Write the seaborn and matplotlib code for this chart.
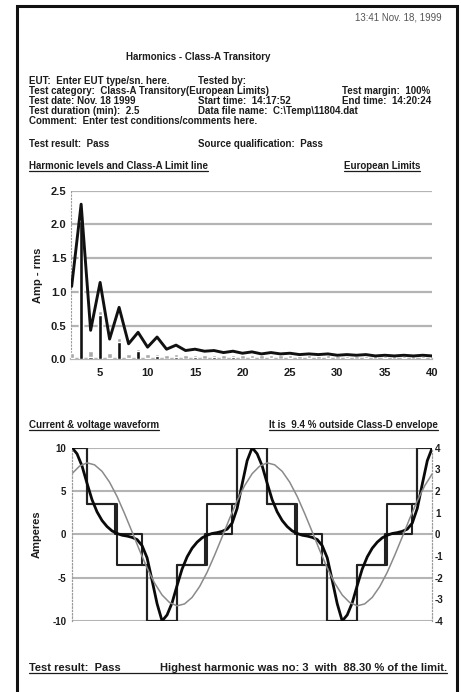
import matplotlib
matplotlib.use("Agg")
import matplotlib.pyplot as plt
import numpy as np
import seaborn as sns
from matplotlib.lines import Line2D
from matplotlib.patches import Rectangle

# harmonic table (Amp rms)
harmonics = list(range(2, 41))
limit_a = [1.08, 2.30, 0.43, 1.14, 0.30, 0.77, 0.23, 0.40, 0.18, 0.33,
           0.15, 0.21, 0.13, 0.15, 0.12, 0.13, 0.10, 0.12, 0.09, 0.11,
           0.08, 0.10, 0.08, 0.09, 0.07, 0.08, 0.07, 0.08, 0.06, 0.07,
           0.06, 0.07, 0.05, 0.06, 0.05, 0.06, 0.05, 0.06, 0.05]
level_max = [0.10, 2.12, 0.12, 0.72, 0.10, 0.31, 0.08, 0.16, 0.08, 0.08,
             0.07, 0.08, 0.07, 0.07, 0.06, 0.07, 0.06, 0.07, 0.06, 0.06,
             0.06, 0.06, 0.06, 0.06, 0.05, 0.06, 0.05, 0.06, 0.05, 0.05,
             0.05, 0.05, 0.05, 0.05, 0.05, 0.05, 0.05, 0.05, 0.05]
level_avg = [0.02, 2.05, 0.03, 0.65, 0.02, 0.26, 0.02, 0.13, 0.02, 0.05,
             0.01, 0.04, 0.01, 0.03, 0.01, 0.03, 0.01, 0.03, 0.01, 0.02,
             0.01, 0.02, 0.01, 0.02, 0.01, 0.02, 0.01, 0.02, 0.01, 0.02,
             0.01, 0.02, 0.01, 0.02, 0.01, 0.02, 0.01, 0.02, 0.01]

# waveform, x in degrees over two mains cycles
wave_deg = list(range(0, 721, 10))
current = [10.0, 9.3, 7.9, 5.9, 4.0, 2.6, 1.6, 0.9, 0.4, 0.1,
           -0.1, -0.2, -0.35, -0.6, -1.3, -2.7, -5.3, -8.0, -10.0, -9.3,
           -7.9, -5.9, -4.0, -2.6, -1.6, -0.9, -0.4, -0.1, 0.1, 0.2,
           0.35, 0.6, 1.3, 3.0, 5.8, 8.5,
           10.0, 9.3, 7.9, 5.9, 4.0, 2.6, 1.6, 0.9, 0.4, 0.1,
           -0.1, -0.2, -0.35, -0.6, -1.3, -2.7, -5.3, -8.0, -10.0, -9.3,
           -7.9, -5.9, -4.0, -2.6, -1.6, -0.9, -0.4, -0.1, 0.1, 0.2,
           0.35, 0.6, 1.3, 3.0, 5.8, 8.5, 10.0]
volt_deg = list(range(0, 721, 15))
voltage = [2.80, 3.15, 3.30, 3.21, 2.91, 2.41, 1.75, 0.96, 0.12, -0.74,
           -1.55, -2.25, -2.80, -3.15, -3.30, -3.21, -2.91, -2.41, -1.75, -0.96,
           -0.12, 0.74, 1.55, 2.25,
           2.80, 3.15, 3.30, 3.21, 2.91, 2.41, 1.75, 0.96, 0.12, -0.74,
           -1.55, -2.25, -2.80, -3.15, -3.30, -3.21, -2.91, -2.41, -1.75, -0.96,
           -0.12, 0.74, 1.55, 2.25, 2.80]
env_outer_deg = [0, 30, 90, 150, 210, 270, 330, 390, 450, 510, 570, 630, 690, 720]
env_outer = [10, 3.5, -3.5, -10, -3.5, 3.5, 10, 3.5, -3.5, -10, -3.5, 3.5, 10, 10]
env_inner_deg = [0, 30, 86, 139, 150, 210, 266, 319, 330, 390, 446, 499, 510,
                 570, 626, 679, 690, 720]
env_inner = [10, 3.5, 0, -3.5, -10, -3.5, 0, 3.5, 10, 3.5, 0, -3.5, -10,
             -3.5, 0, 3.5, 10, 10]

sns.set_style("white")
plt.rcParams["font.family"] = ["Liberation Sans", "DejaVu Sans"]
plt.rcParams["axes.unicode_minus"] = False

ink = "#1c1c1c"
gridc = "#b4b4b4"

fig = plt.figure(figsize=(4.61, 6.92), dpi=100)
W, H = 461.0, 692.0

def fx(px):
    return px / W

def fy(py):
    return 1 - py / H

def put(x, y, s, **kw):
    kw.setdefault("fontsize", 7)
    kw.setdefault("fontweight", "bold")
    kw.setdefault("color", ink)
    kw.setdefault("va", "center")
    return fig.text(fx(x), fy(y), s, **kw)

def underline(t0, t1=None):
    fig.canvas.draw()
    inv = fig.transFigure.inverted()
    b0 = t0.get_window_extent().transformed(inv)
    b1 = (t1 or t0).get_window_extent().transformed(inv)
    y = b0.y0 + 0.0005
    fig.add_artist(Line2D([b0.x0, b1.x1], [y, y], color=ink, lw=0.9))

# page frame
fig.add_artist(Rectangle((fx(16.7), -0.02), fx(456.7 - 16.7), fy(6) + 0.02,
                         transform=fig.transFigure, fill=False, lw=2.2,
                         edgecolor="#111111", clip_on=False))

# header
put(442, 18, "13:41 Nov. 18, 1999", ha="right", fontweight="normal", color="#555555")
put(198, 57, "Harmonics - Class-A Transitory", ha="center")
put(29, 81, "EUT:  Enter EUT type/sn. here.")
put(198, 81, "Tested by:")
put(29, 91, "Test category:  Class-A Transitory(European Limits)")
put(342, 91, "Test margin:  100%")
put(29, 101, "Test date: Nov. 18 1999")
put(198, 101, "Start time:  14:17:52")
put(342, 101, "End time:  14:20:24")
put(29, 111, "Test duration (min):  2.5")
put(198, 111, "Data file name:  C:\\Temp\\11804.dat")
put(29, 120.5, "Comment:  Enter test conditions/comments here.")
put(29, 144, "Test result:  Pass")
put(198, 144, "Source qualification:  Pass")
t_h1 = put(29, 166, "Harmonic levels and Class-A Limit line")
t_h2 = put(420, 166, "European Limits", ha="right")
t_w1 = put(29, 425, "Current & voltage waveform")
t_w2 = put(438.3, 425, "It is  9.4 % outside Class-D envelope", ha="right")
t_b1 = put(29, 668.3, "Test result:  Pass", fontsize=8)
t_b2 = put(446.7, 668.3, "Highest harmonic was no: 3  with  88.30 % of the limit.",
           ha="right", fontsize=8)

# harmonic levels
ax1 = fig.add_axes([fx(70.7), fy(359.3), fx(432.3 - 70.7), (359.3 - 190.7) / H])
sns.barplot(x=harmonics, y=level_max, native_scale=True, width=0.45, color="#a8a8a8",
            saturation=1, errorbar=None, ax=ax1, zorder=3)
sns.barplot(x=harmonics, y=level_avg, native_scale=True, width=0.45, color="#111111",
            saturation=1, errorbar=None, ax=ax1, zorder=4)
sns.lineplot(x=harmonics, y=limit_a, color="#111111", linewidth=2.1, ax=ax1, zorder=5)
ax1.set_xlim(1.9, 40)
ax1.set_ylim(0, 2.5)
ax1.set_yticks([0, 0.5, 1.0, 1.5, 2.0, 2.5])
ax1.set_yticklabels(["0.0", "0.5", "1.0", "1.5", "2.0", "2.5"])
ax1.set_xticks([5, 10, 15, 20, 25, 30, 35, 40])
ax1.set_xticklabels(["5", "10", "15", "20", "25", "30", "35", "40"])
ax1.yaxis.grid(True, color=gridc, lw=1.6, zorder=0)
ax1.set_axisbelow(True)
ax1.tick_params(axis="both", length=0, labelsize=8, colors=ink)
ax1.tick_params(axis="x", pad=6)
ax1.tick_params(axis="y", pad=3)
for lab in ax1.get_xticklabels() + ax1.get_yticklabels():
    lab.set_fontweight("bold")
ax1.set_ylabel("Amp - rms", fontsize=8, fontweight="bold", color=ink, labelpad=6)
ax1.set_xlabel("")
for s in ["top", "right"]:
    ax1.spines[s].set_visible(False)
ax1.spines["left"].set_color("#9a9a9a")
ax1.spines["left"].set_linestyle((0, (1, 2)))
ax1.spines["bottom"].set_color(gridc)
ax1.spines["bottom"].set_linewidth(1.6)

# waveform
ax2 = fig.add_axes([fx(72), fy(621), fx(432.3 - 72), (621 - 447.7) / H])
ax3 = ax2.twinx()
sns.lineplot(x=volt_deg, y=voltage, color="#8a8a8a", linewidth=1.1, ax=ax3,
             estimator=None, sort=False)
sns.lineplot(x=env_outer_deg, y=env_outer, color="#222222", linewidth=1.5,
             drawstyle="steps-post", estimator=None, sort=False, ax=ax2)
sns.lineplot(x=env_inner_deg, y=env_inner, color="#222222", linewidth=1.5,
             drawstyle="steps-post", estimator=None, sort=False, ax=ax2)
sns.lineplot(x=wave_deg, y=current, color="#0a0a0a", linewidth=2.0,
             estimator=None, sort=False, ax=ax2)
ax2.set_xlim(0, 720)
ax2.set_ylim(-10, 10)
ax3.set_ylim(-4, 4)
ax2.set_yticks([-10, -5, 0, 5, 10])
ax3.set_yticks([-4, -3, -2, -1, 0, 1, 2, 3, 4])
ax2.set_xticks([])
ax2.yaxis.grid(True, color=gridc, lw=1.5, zorder=0)
ax2.set_axisbelow(True)
ax2.tick_params(axis="y", length=0, labelsize=7, colors=ink, pad=4)
ax3.tick_params(axis="y", length=0, labelsize=7, colors=ink, pad=2)
for lab in ax2.get_yticklabels() + ax3.get_yticklabels():
    lab.set_fontweight("bold")
ax2.set_ylabel("Amperes", fontsize=8, fontweight="bold", color=ink, labelpad=8)
ax3.set_ylabel("")
ax2.set_xlabel("")
for a in (ax2, ax3):
    a.spines["top"].set_visible(False)
    a.spines["bottom"].set_visible(False)
    a.spines["left"].set_color("#9a9a9a")
    a.spines["left"].set_linestyle((0, (1, 2)))
    a.spines["right"].set_color("#9a9a9a")
    a.spines["right"].set_linestyle((0, (1, 2)))

underline(t_h1)
underline(t_h2)
underline(t_w1)
underline(t_w2)
underline(t_b1, t_b2)

fig.savefig("out.png", dpi=100)
